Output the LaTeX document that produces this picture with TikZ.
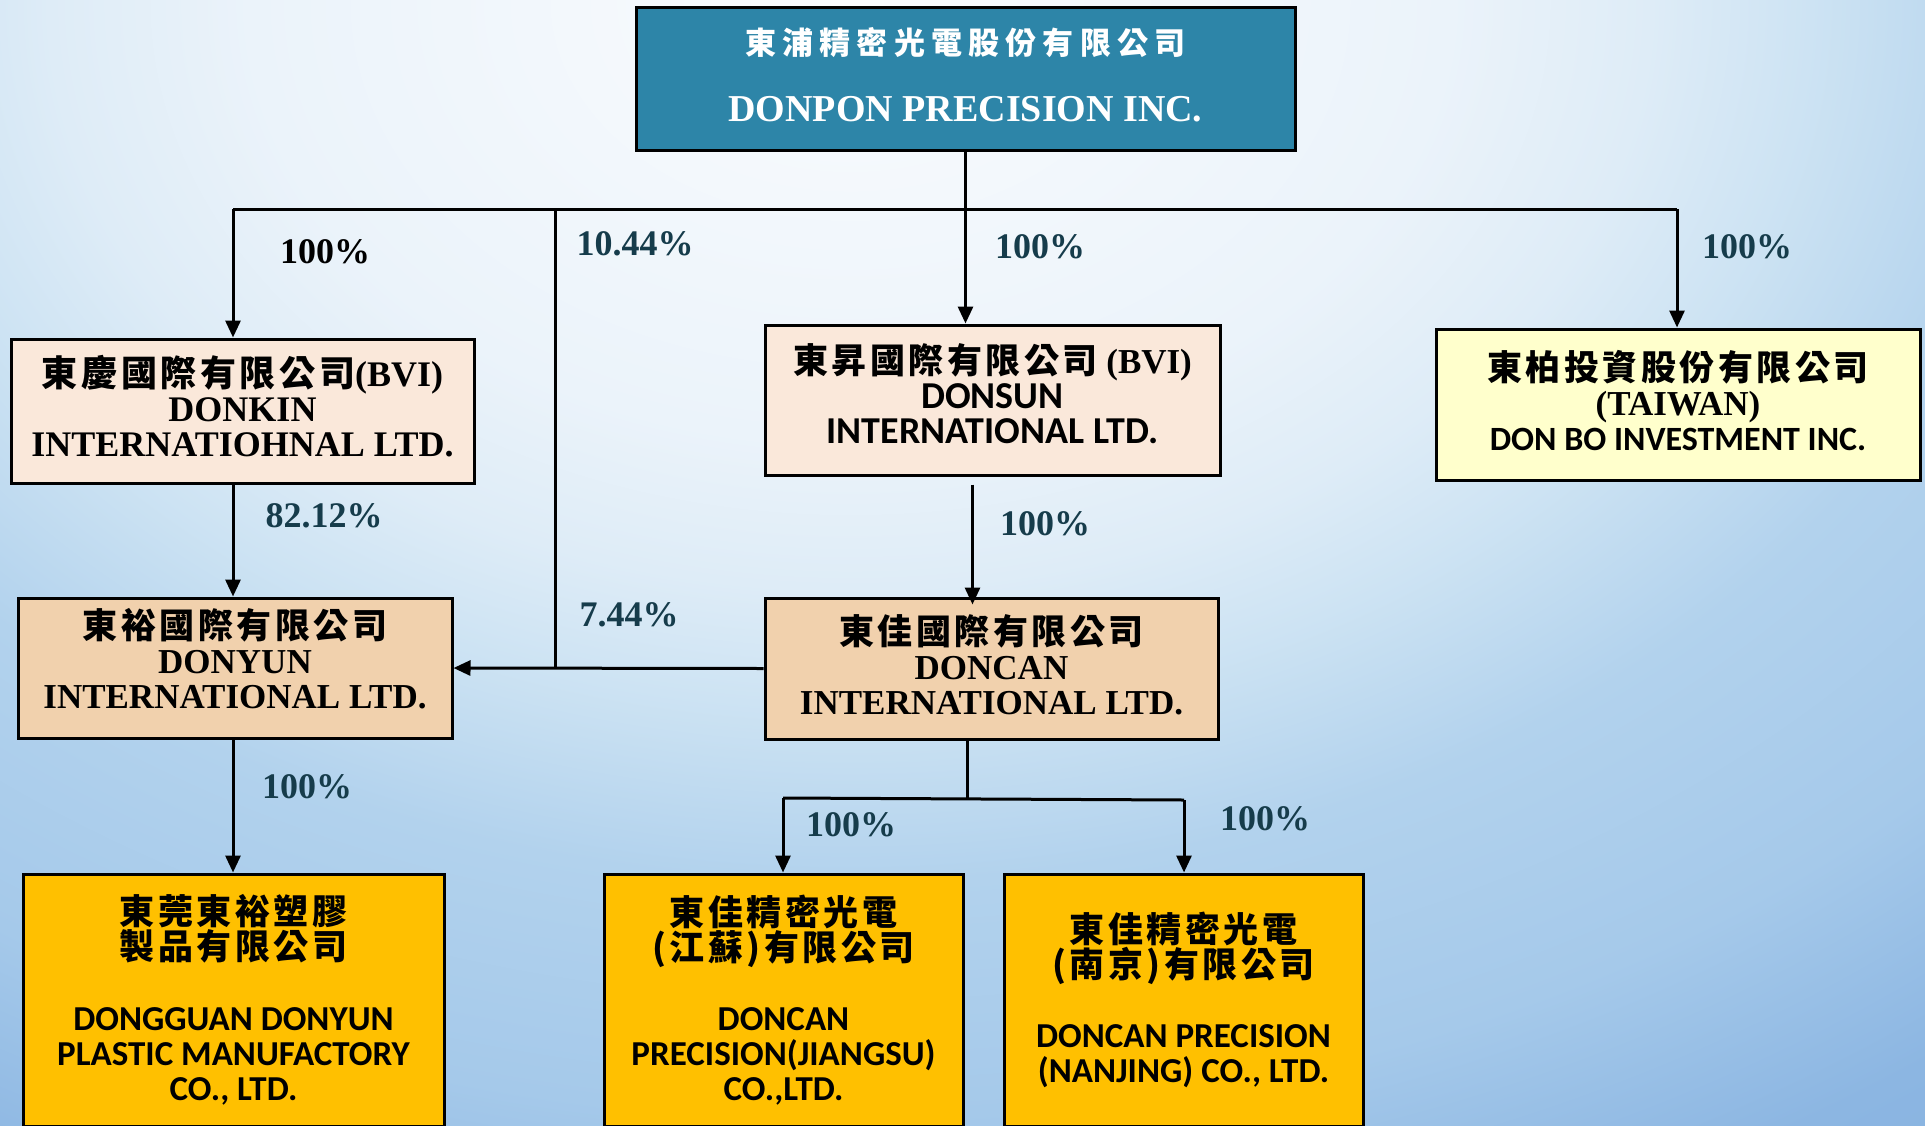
\documentclass[tikz,border=0pt]{standalone}
\usepackage{fontspec}
\setmainfont{Liberation Serif}
\newfontfamily\cjk[LetterSpace=10]{Noto Sans CJK TC}
\newfontfamily\calib{Carlito}
\usetikzlibrary{arrows.meta}

\newcommand{\zh}{\cjk\bfseries}

\definecolor{topblue}{RGB}{45,133,168}
\definecolor{palepeach}{RGB}{250,232,218}
\definecolor{peach}{RGB}{241,209,173}
\definecolor{paleyellow}{RGB}{255,255,204}
\definecolor{gold}{RGB}{255,192,0}
\definecolor{pctcol}{RGB}{22,60,75}

\definecolor{bgA}{RGB}{250,252,254}
\definecolor{bgB}{RGB}{235,243,250}
\definecolor{bgC}{RGB}{222,236,247}
\definecolor{bgD}{RGB}{205,227,243}
\definecolor{bgE}{RGB}{178,210,237}
\definecolor{bgF}{RGB}{165,201,234}
\definecolor{bgG}{RGB}{140,182,226}
\definecolor{bgH}{RGB}{135,178,224}
\pgfdeclareradialshading{bgshade}{\pgfpoint{0bp}{0bp}}{color(0bp)=(bgA); color(7.5bp)=(bgB); color(10bp)=(bgC); color(12bp)=(bgD); color(15bp)=(bgE); color(19bp)=(bgF); color(22.5bp)=(bgG); color(25bp)=(bgH); color(50bp)=(bgH)}

\begin{document}
\begin{tikzpicture}[x=1pt, y=-1pt,
  orgbox/.style={draw=black, line width=3pt, inner sep=0pt, align=center},
  serifbox/.style={orgbox, font=\fontsize{35}{35}\selectfont\bfseries},
  calbox/.style={orgbox, font=\fontsize{35}{35}\selectfont\bfseries\calib},
  pct/.style={font=\fontsize{36}{36}\selectfont\bfseries, text=pctcol},
  link/.style={line width=3pt},
  arr/.style={line width=3pt, -{Triangle[length=17pt, width=15pt]}}]

\useasboundingbox (0,0) rectangle (1925,1125);

% Background
\begin{scope}
\clip (0,0) rectangle (1925,1125);
\shade[shading=bgshade] (850,0) ellipse [x radius=2000, y radius=1470];
\end{scope}

% Companies
\node[orgbox, fill=topblue, text=white, minimum width=659pt, minimum height=143pt, text depth=8pt, font=\fontsize{38}{67}\selectfont\bfseries] (donpon) at (965.5,78.5)
  {{\zh\fontsize{31}{67}\selectfont\addfontfeature{LetterSpace=20}東浦精密光電股份有限公司}\\DONPON PRECISION INC.};

\node[serifbox, fill=palepeach, minimum width=463pt, minimum height=144pt, text depth=10pt, font=\fontsize{36}{35}\selectfont\bfseries] (donkin) at (242.5,411)
  {{\zh 東慶國際有限公司}(BVI)\\DONKIN\\INTERNATIOHNAL LTD.};
\node[serifbox, fill=palepeach, minimum width=455pt, minimum height=150pt, text depth=12pt] (donsun) at (992.5,400)
  {{\zh 東昇國際有限公司} (BVI)\\{\calib\fontsize{38}{35}\selectfont DONSUN}\\{\calib\fontsize{38}{35}\selectfont INTERNATIONAL LTD.}};
\node[serifbox, fill=paleyellow, minimum width=484pt, minimum height=151pt, text depth=8pt] (donbo) at (1678,404.5)
  {{\zh 東柏投資股份有限公司}\\(TAIWAN)\\{\calib\fontsize{34}{35}\selectfont DON BO INVESTMENT INC.}};

\node[serifbox, fill=peach, minimum width=434pt, minimum height=140pt, text depth=20pt] (donyun) at (235,668)
  {{\zh 東裕國際有限公司}\\DONYUN\\INTERNATIONAL LTD.};
\node[serifbox, fill=peach, minimum width=453pt, minimum height=141pt, text depth=8pt] (doncan) at (991.5,668.5)
  {{\zh 東佳國際有限公司}\\DONCAN\\INTERNATIONAL LTD.};

\node[calbox, fill=gold, minimum width=421pt, minimum height=252pt] (dongguan) at (233.5,1000)
  {{\zh 東莞東裕塑膠}\\{\zh 製品有限公司}\\[36pt]DONGGUAN DONYUN\\PLASTIC MANUFACTORY\\CO., LTD.};
\node[calbox, fill=gold, minimum width=359pt, minimum height=252pt] (jiangsu) at (783.5,1000)
  {{\zh 東佳精密光電}\\{\zh (江蘇)有限公司}\\[35pt]DONCAN\\PRECISION(JIANGSU)\\CO.,LTD.};
\node[calbox, fill=gold, minimum width=359pt, minimum height=252pt] (nanjing) at (1183.5,1000)
  {{\zh 東佳精密光電}\\{\zh (南京)有限公司}\\[35pt]DONCAN PRECISION\\(NANJING) CO., LTD.};

% Bus
\coordinate (busL) at (233,209);
\coordinate (busR) at (1677,209);
\coordinate (tap) at (555,209);
\coordinate (stem) at (967,799);
\coordinate (forkL) at (783,798);
\coordinate (forkR) at (1184,800);

% Arrows
\draw[link] (busL) -- (busR);
\draw[arr] (donpon.south) -- (donpon.south |- donsun.north);
\draw[arr] (busL) -- (busL |- donkin.north);
\draw[arr] (busR) -- (busR |- donbo.north);
\draw[link] (tap) -- (tap |- donyun.east);
\draw[arr] (busL |- donkin.south) -- (busL |- donyun.north);
\draw[arr] ([shift={(-20,8)}]donsun.south) -- ([shift={(-20,8)}]donsun.south |- doncan.north);
\draw[arr] (doncan.west) -- (donyun.east);
\draw[arr] (busL |- donyun.south) -- (busL |- dongguan.north);
\draw[link] (stem |- doncan.south) -- (stem);
\draw[link] (forkL) -- (forkR);
\draw[arr] (forkL) -- (forkL |- jiangsu.north);
\draw[arr] (forkR) -- (forkR |- nanjing.north);

% Shares
\node[pct, text=black] (pctDonkin) at (325,252) {100\%};
\node[pct] (pctTap) at (635,244) {10.44\%};
\node[pct] (pctDonsun) at (1040,247) {100\%};
\node[pct] (pctDonbo) at (1747,247) {100\%};
\node[pct] (pctDonyun) at (324,516) {82.12\%};
\node[pct] (pctDoncan) at (1045,524) {100\%};
\node[pct] (pctCross) at (629,615) {7.44\%};
\node[pct] (pctDongguan) at (307,787) {100\%};
\node[pct] (pctJiangsu) at (851,825) {100\%};
\node[pct] (pctNanjing) at (1265,819) {100\%};

\end{tikzpicture}
\end{document}
